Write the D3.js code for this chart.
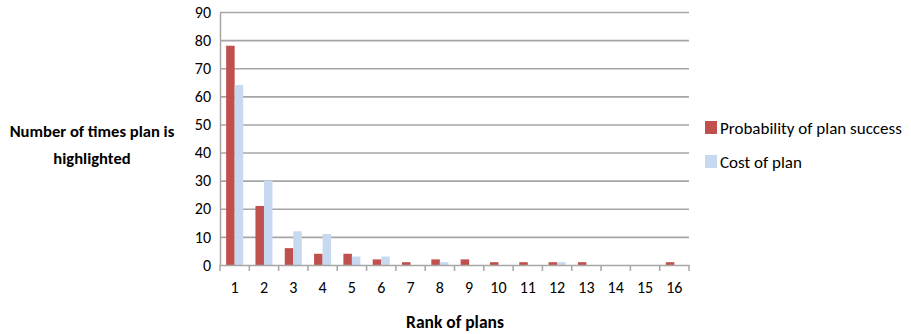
<!DOCTYPE html>
<html><head><meta charset="utf-8">
<script src="https://cdn.jsdelivr.net/npm/d3@7"></script>
<style>body{margin:0;background:#fff}svg{display:block}</style>
</head><body>
<svg id="c" width="911" height="334"></svg>
<script>
const categories = ["1","2","3","4","5","6","7","8","9","10","11","12","13","14","15","16"];
const probSuccess = [78,21,6,4,4,2,1,2,2,1,1,1,1,0,0,1];
const costOfPlan = [64,30,12,11,3,3,0,1,0,0,0,1,0,0,0,0];
const yTicks = [0,10,20,30,40,50,60,70,80,90];
const seriesNames = ["Probability of plan success","Cost of plan"];
const colors = ["#C0504D","#C6D9F1"];

const font = "Carlito, Lato, 'Open Sans', sans-serif";
const svg = d3.select("#c");
const m = {l:220, r:689, t:12, b:265};
const x = d3.scaleBand().domain(categories).range([m.l, m.r]).paddingInner(0).paddingOuter(0);
const y = d3.scaleLinear().domain([0,90]).range([m.b, m.t]);
const inner = d3.scaleBand().domain([0,1]).range([0, x.bandwidth()]).paddingInner(0).paddingOuter(0.72);

// gridlines
svg.append("g").selectAll("line").data(yTicks.filter(d=>d>0)).join("line")
  .attr("x1", m.l).attr("x2", m.r).attr("y1", d=>y(d)+0.5).attr("y2", d=>y(d)+0.5)
  .attr("stroke", "#a6a6a6").attr("stroke-width", 1.6);

// y axis
const ya = svg.append("g").attr("transform", `translate(${m.l},0)`)
  .call(d3.axisLeft(y).tickValues(yTicks).tickSize(0).tickPadding(9));
ya.select(".domain").attr("stroke", "#a6a6a6").attr("stroke-width", 1.5);
ya.selectAll("text").attr("font-family", font).attr("font-size", 16).attr("fill", "#000");

// bars
const data = categories.map((c,i)=>({c, v:[probSuccess[i], costOfPlan[i]]}));
const g = svg.append("g");
data.forEach(d=>{
  d.v.forEach((v,s)=>{
    g.append("rect").attr("x", x(d.c)+inner(s)).attr("width", inner.bandwidth())
      .attr("y", y(v)).attr("height", y(0)-y(v)).attr("fill", colors[s]);
  });
});

// x axis
const xa = svg.append("g").attr("transform", `translate(0,${m.b})`)
  .call(d3.axisBottom(x).tickSize(0).tickPadding(17));
xa.select(".domain").attr("stroke", "#a6a6a6").attr("stroke-width", 1.5);
xa.selectAll("text").attr("font-family", font).attr("font-size", 16).attr("fill", "#000");
const bounds = d3.range(categories.length+1).map(i=>m.l + i*x.step());
xa.selectAll("line.tk").data(bounds).join("line").attr("class","tk")
  .attr("x1", d=>d).attr("x2", d=>d).attr("y1", 0).attr("y2", 6)
  .attr("stroke", "#a6a6a6").attr("stroke-width", 1.5);

// axis titles
const yt = svg.append("text").attr("font-family", font).attr("font-size", 16.6).attr("font-weight", "bold")
  .attr("text-anchor", "middle").attr("fill", "#000");
yt.append("tspan").attr("x", 92).attr("y", 137).text("Number of times plan is");
yt.append("tspan").attr("x", 92).attr("y", 164).text("highlighted");
svg.append("text").attr("x", 455).attr("y", 328).attr("font-family", font).attr("font-size", 17.5)
  .attr("font-weight", "bold").attr("text-anchor", "middle").text("Rank of plans");

// legend
const lg = svg.append("g");
seriesNames.forEach((n,i)=>{
  const yy = 121 + i*34;
  lg.append("rect").attr("x", 705).attr("y", yy).attr("width", 12).attr("height", 13).attr("fill", colors[i]);
  lg.append("text").attr("x", 720).attr("y", yy+13).attr("font-family", font).attr("font-size", 17)
    .attr("fill", "#000").text(n);
});
</script>
</body></html>
